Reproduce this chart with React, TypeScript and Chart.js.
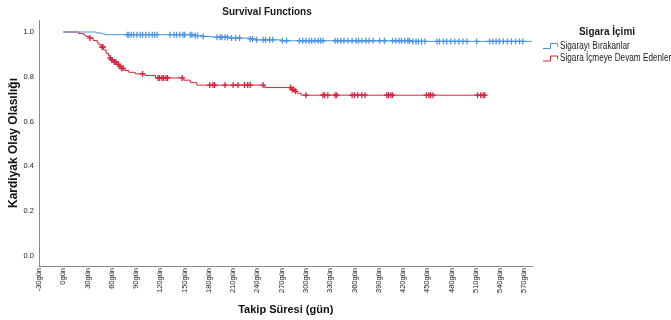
import React, { useEffect, useRef } from "react";
import { Chart, registerables } from "chart.js";

Chart.register(...registerables);

// ---------- data ----------
const CHART_TITLE = "Survival Functions";
const X_TITLE = "Takip Süresi (gün)";
const Y_TITLE = "Kardiyak Olay Olasılığı";
const LEGEND_TITLE = "Sigara İçimi";
const SERIES_NAMES = ["Sigarayı Bırakanlar", "Sigara İçmeye Devam Edenler"];
const SERIES_COLORS = ["#4a94e0", "#d7223e"];

const X_TICKS = [-30, 0, 30, 60, 90, 120, 150, 180, 210, 240, 270, 300, 330, 360, 390, 420, 450, 480, 510, 540, 570];
const X_SUFFIX = "gün";
const Y_TICKS = [0, 0.2, 0.4, 0.6, 0.8, 1.0];

// Kaplan-Meier steps: Sigarayı Bırakanlar
const QUIT_TIMES = [0, 41, 47, 51, 160, 172, 184, 205, 230, 239, 270, 432, 579];
const QUIT_SURV = [1, 0.996, 0.992, 0.988, 0.984, 0.98, 0.977, 0.973, 0.969, 0.965, 0.961, 0.958, 0.958];
const QUIT_CENSORED = [
  79, 81, 84, 87, 91, 95, 98, 102, 106, 110, 113, 116,
  132, 137, 140, 144, 148, 150, 157, 159, 163, 166, 173,
  190, 194, 196, 200, 203, 208, 213, 218, 231, 234, 239,
  247, 250, 255, 259, 271, 276,
  292, 296, 300, 304, 307, 311, 315, 318, 321,
  336, 339, 343, 347, 352, 357, 362, 365, 369, 374, 378, 383,
  391, 397, 407, 411, 415, 418, 422, 426, 428,
  432, 436, 439, 443, 447, 462, 465, 470, 474, 479, 484, 489, 494, 499,
  511, 527, 531, 535, 539, 544, 549, 554, 559, 564, 568,
];

// Kaplan-Meier steps: Sigara İçmeye Devam Edenler
const SMOKE_TIMES = [0, 19, 25, 28, 33, 37, 42, 44, 48, 50, 53, 56, 58, 60, 63, 66, 69, 72, 76, 81, 89, 101, 114, 149, 157, 165, 249, 282, 286, 289, 294, 521];
const SMOKE_SURV = [1, 0.993, 0.987, 0.98, 0.973, 0.962, 0.952, 0.943, 0.933, 0.92, 0.905, 0.893, 0.884, 0.875, 0.866, 0.855, 0.847, 0.838, 0.828, 0.82, 0.813, 0.806, 0.795, 0.785, 0.774, 0.763, 0.752, 0.743, 0.735, 0.727, 0.718, 0.718];
const SMOKE_CENSORED = [
  33, 48, 49, 58, 60, 63, 65, 68, 70, 72, 74, 98,
  117, 119, 122, 124, 127, 129, 147, 181, 185, 187, 200, 210, 216,
  224, 228, 231, 247, 281, 283, 285, 287, 300, 321, 323, 327, 336, 338,
  357, 360, 364, 369, 373, 400, 402, 405, 407, 449, 452, 454, 457,
  512, 516, 519, 521,
];

const FONT = "'Liberation Sans', Arial, sans-serif";

function kmLookup(times: number[], surv: number[], t: number): number {
  let v = surv[0];
  for (let i = 0; i < times.length; i++) {
    if (times[i] <= t) v = surv[i];
  }
  return v;
}

const extrasPlugin = {
  id: "extras",
  afterDraw(chart: any) {
    const ctx = chart.ctx as CanvasRenderingContext2D;
    ctx.save();
    ctx.fillStyle = "#1a1a1a";
    ctx.textBaseline = "middle";
    ctx.textAlign = "center";
    ctx.font = `bold 10px ${FONT}`;
    ctx.fillText(CHART_TITLE, 267, 12);
    ctx.fillText(LEGEND_TITLE, 607, 32);
    ctx.textAlign = "left";
    ctx.font = `10px ${FONT}`;
    SERIES_NAMES.forEach((name, i) => {
      const y = 46 + i * 12.5;
      ctx.strokeStyle = SERIES_COLORS[i];
      ctx.lineWidth = 1;
      ctx.beginPath();
      ctx.moveTo(543, y + 2.5);
      ctx.lineTo(550.5, y + 2.5);
      ctx.lineTo(550.5, y - 2.5);
      ctx.lineTo(557.5, y - 2.5);
      ctx.lineTo(557.5, y + 0.5);
      ctx.stroke();
      ctx.save();
      ctx.translate(560, y);
      ctx.scale(0.82, 1);
      ctx.fillStyle = "#1a1a1a";
      ctx.fillText(name, 0, 0);
      ctx.restore();
    });
    ctx.restore();
  },
};

export default function App() {
  const canvasRef = useRef<HTMLCanvasElement | null>(null);

  useEffect(() => {
    document.body.style.margin = "0";
    const canvas = canvasRef.current;
    if (!canvas) return;

    const quitLine = QUIT_TIMES.map((t, i) => ({ x: t, y: QUIT_SURV[i] }));
    const smokeLine = SMOKE_TIMES.map((t, i) => ({ x: t, y: SMOKE_SURV[i] }));
    const quitCens = QUIT_CENSORED.map((t) => ({ x: t, y: kmLookup(QUIT_TIMES, QUIT_SURV, t) }));
    const smokeCens = SMOKE_CENSORED.map((t) => ({ x: t, y: kmLookup(SMOKE_TIMES, SMOKE_SURV, t) }));

    const chart = new Chart(canvas, {
      type: "line",
      data: {
        datasets: [
          {
            label: SERIES_NAMES[0],
            data: quitLine,
            borderColor: SERIES_COLORS[0],
            borderWidth: 1,
            pointRadius: 0,
            stepped: "before",
            fill: false,
          },
          {
            label: SERIES_NAMES[1],
            data: smokeLine,
            borderColor: SERIES_COLORS[1],
            borderWidth: 1,
            pointRadius: 0,
            stepped: "before",
            fill: false,
          },
          {
            label: SERIES_NAMES[0] + " censored",
            data: quitCens,
            showLine: false,
            pointStyle: "cross",
            pointRadius: 3,
            pointBorderWidth: 1.3,
            pointBorderColor: SERIES_COLORS[0],
            borderColor: SERIES_COLORS[0],
          },
          {
            label: SERIES_NAMES[1] + " censored",
            data: smokeCens,
            showLine: false,
            pointStyle: "cross",
            pointRadius: 3,
            pointBorderWidth: 1.3,
            pointBorderColor: SERIES_COLORS[1],
            borderColor: SERIES_COLORS[1],
          },
        ],
      },
      options: {
        responsive: false,
        animation: false,
        events: [],
        layout: { padding: { top: 20, right: 138.5, left: 0, bottom: 0 } },
        plugins: {
          legend: { display: false },
          title: { display: false },
          tooltip: { enabled: false },
        },
        scales: {
          x: {
            type: "linear",
            min: -30,
            max: 580,
            afterBuildTicks: (s: any) => {
              s.ticks = X_TICKS.map((v) => ({ value: v }));
            },
            afterFit: (s: any) => {
              s.height = 54;
            },
            grid: { display: false, drawTicks: false },
            border: { display: true, color: "#8a8a8a", width: 1 },
            ticks: {
              autoSkip: false,
              minRotation: 90,
              maxRotation: 90,
              padding: 2,
              color: "#222",
              font: { size: 7.5, family: FONT },
              callback: (v: any) => `${v}${X_SUFFIX}`,
            },
            title: {
              display: true,
              text: X_TITLE,
              color: "#111",
              font: { size: 11, weight: "bold", family: FONT },
              padding: { top: 3.4, bottom: 3.4 },
            },
          },
          y: {
            type: "linear",
            min: -0.0446,
            max: 1.0536,
            afterBuildTicks: (s: any) => {
              s.ticks = Y_TICKS.map((v) => ({ value: v }));
            },
            afterFit: (s: any) => {
              s.width = 39;
            },
            grid: { display: false, drawTicks: false },
            border: { display: true, color: "#8a8a8a", width: 1 },
            ticks: {
              padding: 5,
              color: "#222",
              font: { size: 7.5, family: FONT },
              callback: (v: any) => Number(v).toFixed(1),
            },
            title: {
              display: true,
              text: Y_TITLE,
              color: "#111",
              font: { size: 12, weight: "bold", family: FONT },
              padding: { top: 6.8, bottom: 6.8 },
            },
          },
        },
      },
      plugins: [extrasPlugin],
    } as any);

    return () => {
      chart.destroy();
    };
  }, []);

  return (
    <div style={{ width: 671, height: 320 }}>
      <canvas ref={canvasRef} width={671} height={320} style={{ display: "block" }} />
    </div>
  );
}
